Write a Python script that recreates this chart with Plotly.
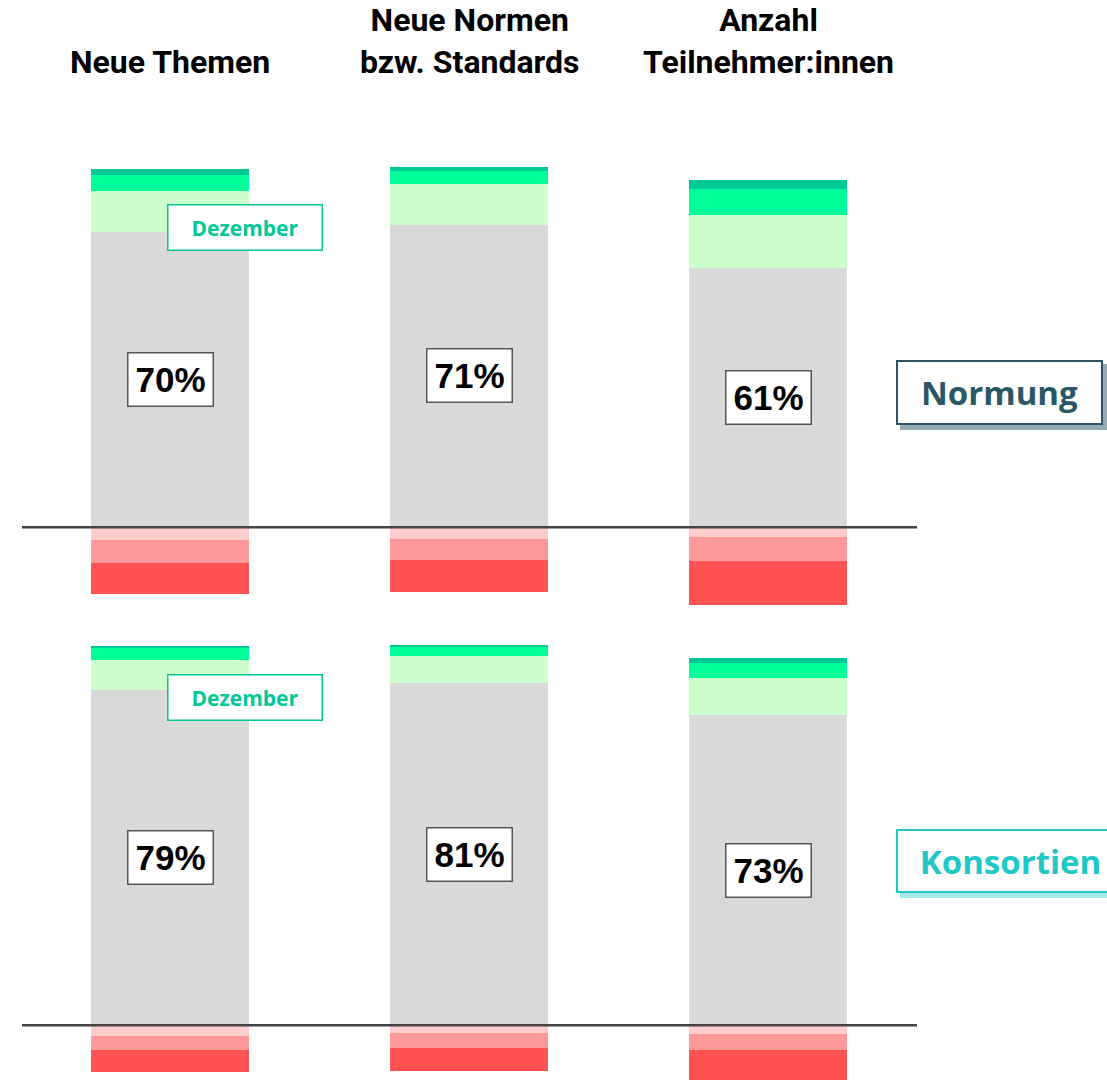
import plotly.graph_objects as go

# ---------------- data ----------------
categories = ["Neue Themen", "Neue Normen<br>bzw. Standards", "Anzahl<br>Teilnehmer:innen"]
panels = ["Normung", "Konsortien"]

# Normung (top panel), shares in %
norm_gray = [69.6, 71.3, 61.2]
norm_lightgreen = [9.7, 9.5, 12.3]
norm_green = [3.8, 3.1, 6.1]
norm_darkgreen = [1.2, 0.9, 2.1]
norm_lightred = [3.0, 2.8, 2.2]
norm_midred = [5.3, 4.9, 5.7]
norm_red = [7.4, 7.5, 10.4]
norm_labels = ["70%", "71%", "61%"]

# Konsortien (bottom panel), shares in %
kons_gray = [79.0, 80.7, 73.0]
kons_lightgreen = [7.0, 6.3, 8.7]
kons_green = [2.9, 2.2, 3.6]
kons_darkgreen = [0.3, 0.2, 1.3]
kons_lightred = [2.5, 1.9, 2.0]
kons_midred = [3.4, 3.4, 3.9]
kons_red = [5.1, 5.5, 7.5]
kons_labels = ["79%", "81%", "73%"]

# ---------------- styles ----------------
W, H = 1107, 1080
C_GRAY = "#D9D9D9"
C_LG = "#CCFFCC"
C_G = "#00FF99"
C_DG = "#00C896"
C_LR = "#FFCCCC"
C_MR = "#FF9999"
C_R = "#FF5252"

PX_PER_PCT = 4.245
# pixel layout of the two panels
top_dom_px = (95, 612)
top_base_px = 527.3
bot_dom_px = (620, 1080)
bot_base_px = 1025.3

def ydomain(px):
    return [1 - px[1] / H, 1 - px[0] / H]

def yrange(px, base):
    return [(base - px[1]) / PX_PER_PCT, (base - px[0]) / PX_PER_PCT]

# x: category index 0..2; centres at 170, 469, 767.5 px, width 158 px
cat_spacing = 299.0
x0_px = 170.0
xr = [(0 - x0_px) / cat_spacing, (W - x0_px) / cat_spacing]
bar_w = 158 / cat_spacing

fig = go.Figure()
xidx = [0, 1, 2]

def add_panel(yax, gray, lg, g, dg, lr, mr, r):
    for vals, col in [(gray, C_GRAY), (lg, C_LG), (g, C_G), (dg, C_DG)]:
        fig.add_trace(go.Bar(x=xidx, y=vals, marker=dict(color=col, line=dict(width=0)),
                             width=bar_w, yaxis=yax, hoverinfo="y", showlegend=False))
    for vals, col in [(lr, C_LR), (mr, C_MR), (r, C_R)]:
        fig.add_trace(go.Bar(x=xidx, y=[-v for v in vals], marker=dict(color=col, line=dict(width=0)),
                             width=bar_w, yaxis=yax, hoverinfo="y", showlegend=False))

add_panel("y", norm_gray, norm_lightgreen, norm_green, norm_darkgreen,
          norm_lightred, norm_midred, norm_red)
add_panel("y2", kons_gray, kons_lightgreen, kons_green, kons_darkgreen,
          kons_lightred, kons_midred, kons_red)

annotations = []
# column headers
for i, c in enumerate(categories):
    annotations.append(dict(x=i, xref="x", y=1 - 83 / H, yref="paper",
                            xanchor="center", yanchor="bottom",
                            text="<b>" + c + "</b>", showarrow=False,
                            font=dict(family="Roboto", size=32, color="#000000")))

# percentage boxes at centre of gray segment
for yref, gray, labels in [("y", norm_gray, norm_labels), ("y2", kons_gray, kons_labels)]:
    for i, (gv, lab) in enumerate(zip(gray, labels)):
        annotations.append(dict(x=i, xref="x", y=gv / 2, yref=yref, text="<b>" + lab + "</b>",
                                xanchor="center", yanchor="middle",
                                showarrow=False, bgcolor="#FFFFFF", bordercolor="#555555",
                                borderwidth=1.5, borderpad=0, width=84, height=52,
                                font=dict(family="Liberation Sans", size=35, color="#000000")))

# "Dezember" tags
for ypx in [227, 697.5]:
    annotations.append(dict(x=244.5 / W, xref="paper", y=1 - ypx / H, yref="paper",
                            xanchor="center", yanchor="middle",
                            text="<b>Dezember</b>", showarrow=False, bgcolor="#FFFFFF",
                            bordercolor=C_DG, borderwidth=1.5, borderpad=0, width=153, height=44,
                            font=dict(family="Open Sans", size=21, color=C_DG)))

shapes = []
# panel tags with shadows
tag_specs = [
    ("Normung", 896, 360, 1103, 425, "#2A5766", "#95AAB3"),
    ("Konsortien", 896, 829, 1125, 893, "#1EC8C8", "#A6E8E8"),
]
for txt, x0, y0, x1, y1, col, shcol in tag_specs:
    shapes.append(dict(type="rect", xref="paper", yref="paper",
                       x0=(x0 + 4) / W, x1=(x1 + 5) / W, y0=1 - (y1 + 5) / H, y1=1 - (y0 + 4) / H,
                       fillcolor=shcol, line=dict(width=0), layer="below"))
    annotations.append(dict(x=(x0 + x1) / 2 / W, xref="paper", y=1 - (y0 + y1) / 2 / H, yref="paper",
                            xanchor="center", yanchor="middle",
                            text="<b>" + txt + "</b>", showarrow=False, bgcolor="#FFFFFF",
                            bordercolor=col, borderwidth=2, borderpad=0,
                            width=(x1 - x0) - 4, height=(y1 - y0) - 4,
                            font=dict(family="Open Sans", size=33, color=col)))

# baselines
for yref in ["y", "y2"]:
    shapes.append(dict(type="line", xref="paper", yref=yref, x0=22 / W, x1=917 / W, y0=0, y1=0,
                       line=dict(color="#444444", width=2.5)))

fig.update_layout(
    width=W, height=H, margin=dict(l=0, r=0, t=0, b=0),
    paper_bgcolor="#FFFFFF", plot_bgcolor="#FFFFFF",
    barmode="relative", bargap=0,
    xaxis=dict(range=xr, visible=False, fixedrange=True),
    yaxis=dict(domain=ydomain(top_dom_px), range=yrange(top_dom_px, top_base_px),
               visible=False, fixedrange=True),
    yaxis2=dict(domain=ydomain(bot_dom_px), range=yrange(bot_dom_px, bot_base_px),
                visible=False, fixedrange=True, anchor="x"),
    annotations=annotations, shapes=shapes, showlegend=False,
)

fig.write_html("out.html", config={"displayModeBar": False},
               post_script="document.body.style.margin='0';document.body.style.overflow='hidden';")
